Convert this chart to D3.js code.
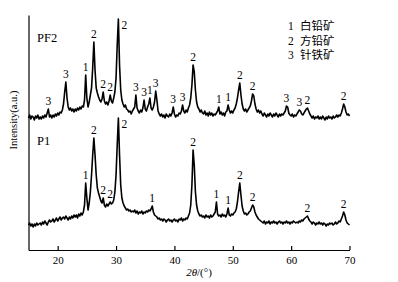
<!DOCTYPE html>
<html>
<head>
<meta charset="utf-8">
<script src="https://cdn.jsdelivr.net/npm/d3@7/dist/d3.min.js"></script>
<style>
html,body{margin:0;padding:0;background:#fff;}
svg{display:block;}
</style>
</head>
<body>
<svg id="chart" width="398" height="282"></svg>
<script>
// 2θ scan angles (°)
const scanAngles = [
15,15.2,15.4,15.6,15.8,16,16.2,16.4,16.6,16.8,
17,17.2,17.4,17.6,17.8,18,18.2,18.4,18.6,18.8,
19,19.2,19.4,19.6,19.8,20,20.2,20.4,20.6,20.8,
21,21.2,21.4,21.6,21.8,22,22.2,22.4,22.6,22.8,
23,23.2,23.4,23.6,23.8,24,24.2,24.4,24.6,24.8,
25,25.2,25.4,25.6,25.8,26,26.2,26.4,26.6,26.8,
27,27.2,27.4,27.6,27.8,28,28.2,28.4,28.6,28.8,
29,29.2,29.4,29.6,29.8,30,30.2,30.4,30.6,30.8,
31,31.2,31.4,31.6,31.8,32,32.2,32.4,32.6,32.8,
33,33.2,33.4,33.6,33.8,34,34.2,34.4,34.6,34.8,
35,35.2,35.4,35.6,35.8,36,36.2,36.4,36.6,36.8,
37,37.2,37.4,37.6,37.8,38,38.2,38.4,38.6,38.8,
39,39.2,39.4,39.6,39.8,40,40.2,40.4,40.6,40.8,
41,41.2,41.4,41.6,41.8,42,42.2,42.4,42.6,42.8,
43,43.2,43.4,43.6,43.8,44,44.2,44.4,44.6,44.8,
45,45.2,45.4,45.6,45.8,46,46.2,46.4,46.6,46.8,
47,47.2,47.4,47.6,47.8,48,48.2,48.4,48.6,48.8,
49,49.2,49.4,49.6,49.8,50,50.2,50.4,50.6,50.8,
51,51.2,51.4,51.6,51.8,52,52.2,52.4,52.6,52.8,
53,53.2,53.4,53.6,53.8,54,54.2,54.4,54.6,54.8,
55,55.2,55.4,55.6,55.8,56,56.2,56.4,56.6,56.8,
57,57.2,57.4,57.6,57.8,58,58.2,58.4,58.6,58.8,
59,59.2,59.4,59.6,59.8,60,60.2,60.4,60.6,60.8,
61,61.2,61.4,61.6,61.8,62,62.2,62.4,62.6,62.8,
63,63.2,63.4,63.6,63.8,64,64.2,64.4,64.6,64.8,
65,65.2,65.4,65.6,65.8,66,66.2,66.4,66.6,66.8,
67,67.2,67.4,67.6,67.8,68,68.2,68.4,68.6,68.8,
69,69.2,69.4,69.6,69.8,70
];

// Sample PF2 intensity (a.u., stacked offset included)
const pf2Intensity = [
132,135,131,134,133,130,134,132,135,131,
133,131,134,132,135,133,137,141,133,135,
132,135,133,136,134,137,135,138,137,140,
146,158,168,152,143,140,142,139,141,138,
141,139,142,140,143,141,144,143,150,175,
152,143,148,155,162,182,208,180,162,157,
153,150,148,151,158,149,146,148,145,149,
155,149,147,152,158,172,205,231,185,160,
150,146,143,145,141,140,138,139,136,139,
141,143,155,142,139,137,140,138,142,150,
141,139,143,146,152,142,140,143,148,159,
150,139,136,134,136,133,135,132,136,134,
133,136,134,137,143,136,133,135,134,137,
136,139,145,139,137,140,138,142,145,152,
165,185,178,160,148,143,141,138,140,137,
136,139,135,137,134,138,135,137,134,136,
135,137,139,143,136,138,135,137,134,138,
139,145,140,137,139,137,140,142,146,152,
160,167,155,146,141,139,141,138,140,142,
144,149,156,154,146,141,138,140,137,139,
136,134,137,135,133,136,134,137,135,133,
136,134,137,135,133,136,134,136,135,137,
139,144,143,137,135,134,136,133,135,134,
136,138,140,139,136,135,137,139,141,142,
139,136,134,132,134,131,133,132,134,131,
133,131,134,132,130,133,131,134,132,133,
131,134,132,133,135,133,135,134,137,141,
146,143,138,135,136,134
];

// Sample P1 intensity (a.u.)
const p1Intensity = [
25,27,24,26,23,26,24,27,25,26,
27,25,28,26,29,27,25,28,30,28,
29,31,28,30,32,29,31,33,30,32,
33,31,34,32,30,33,31,34,32,35,
33,35,32,36,34,37,35,38,45,67,
52,40,47,58,75,95,112,95,75,62,
57,53,49,47,52,45,43,46,44,46,
48,46,47,50,58,75,105,132,95,65,
52,47,44,42,40,41,39,40,38,39,
38,40,37,39,36,38,37,39,36,38,
37,39,38,40,39,41,44,38,35,34,
33,31,32,30,31,29,31,30,28,30,
31,29,30,28,30,31,29,30,28,31,
30,32,29,31,30,32,31,34,37,45,
65,100,85,58,45,39,36,34,35,33,
34,32,35,33,34,32,35,33,34,36,
38,48,36,34,35,33,36,34,35,33,
36,42,35,34,36,35,37,38,41,48,
58,67,55,44,39,36,37,35,36,38,
39,42,45,43,38,35,33,31,30,29,
28,27,29,26,28,27,29,26,28,27,
29,27,28,26,28,29,27,28,26,28,
27,29,27,28,26,28,27,29,28,27,
28,27,29,28,30,29,31,32,33,34,
31,29,28,26,28,27,25,27,26,28,
26,27,25,27,26,24,26,25,27,26,
27,25,26,28,26,27,29,28,31,34,
38,35,30,27,26,25
];

const sampleNames = ["PF2", "P1"];

// Phase annotations (peak 2θ and phase number)
const pf2PeakAngles = [18.4,21.4,24.8,26.2,27.8,29.0,30.4,33.4,34.8,35.8,36.8,39.8,41.4,43.2,47.6,49.2,51.2,53.4,59.2,61.4,62.8,69.0];
const pf2PeakPhases = ["3","3","1","2","2","2","2","3","3","1","3","3","3","2","1","1","2","2","3","3","2","2"];
const p1PeakAngles = [24.8,26.2,27.8,29.0,30.4,36.2,43.2,47.2,49.2,51.2,53.4,62.8,69.0];
const p1PeakPhases = ["1","2","2","2","2","1","2","1","1","2","2","2","2"];

// Legend
const phaseNumbers = ["1","2","3"];
const phaseNames = ["白铅矿","方铅矿","针铁矿"];

// Axis ticks
const xTicks = [20,30,40,50,60,70];
const xTitleMain = "2θ";
const xTitleUnit = "/(°)";
const yTitle = "Intensity(a.u.)";

const svg = d3.select("#chart");
const serif = "'Liberation Serif','Times New Roman',serif";
const serifCjk = "'Liberation Serif','Noto Sans CJK SC','Noto Sans CJK JP',serif";

const x = d3.scaleLinear().domain([15, 70]).range([28.5, 349.5]);
const y = d3.scaleLinear().domain([0, 235]).range([250, 15]);

// Curves
const line = d3.line().x(d => x(d[0])).y(d => y(d[1]));
const series = [pf2Intensity, p1Intensity];
series.forEach(vals => {
  svg.append("path")
    .datum(scanAngles.map((a, i) => [a, vals[i]]))
    .attr("d", line)
    .attr("fill", "none")
    .attr("stroke", "#000")
    .attr("stroke-width", 1.6)
    .attr("stroke-linejoin", "round");
});

// Axes
const xAxis = d3.axisBottom(x).tickValues(xTicks).tickSizeInner(-4).tickSizeOuter(0).tickPadding(6);
const gx = svg.append("g").attr("transform", "translate(0,250)").call(xAxis);
gx.select(".domain").attr("stroke", "#000").attr("stroke-width", 1.2);
gx.selectAll(".tick line").attr("stroke", "#000").attr("stroke-width", 1.2);
gx.selectAll(".tick text").attr("font-family", serif).attr("font-size", 11).attr("fill", "#000");

const yAxis = d3.axisLeft(y).tickValues([]).tickSizeOuter(0);
const gy = svg.append("g").attr("transform", "translate(28.5,0)").call(yAxis);
gy.select(".domain").attr("stroke", "#000").attr("stroke-width", 1.2);

// Axis titles
const xt = svg.append("text").attr("x", 199).attr("y", 276).attr("text-anchor", "middle")
  .attr("font-family", serif).attr("font-size", 11).attr("fill", "#000");
xt.append("tspan").attr("font-style", "italic").text(xTitleMain);
xt.append("tspan").text(xTitleUnit);

svg.append("text").attr("transform", "translate(17,120) rotate(-90)").attr("text-anchor", "middle")
  .attr("font-family", serif).attr("font-size", 10.5).attr("fill", "#000").text(yTitle);

// Sample names
svg.append("text").attr("x", 37).attr("y", 42).attr("font-family", serif).attr("font-size", 12.5).attr("fill", "#000").text(sampleNames[0]);
svg.append("text").attr("x", 37).attr("y", 145).attr("font-family", serif).attr("font-size", 12.5).attr("fill", "#000").text(sampleNames[1]);

// Peak labels
function peakLabels(angles, phases, vals) {
  const tallest = d3.max(vals);
  angles.forEach((a, k) => {
    const near = scanAngles.map((s, i) => [s, vals[i]]).filter(d => Math.abs(d[0] - a) <= 0.25);
    const top = d3.max(near, d => d[1]);
    const isTallest = top === tallest;
    svg.append("text")
      .attr("x", isTallest ? x(a) + 3 : x(a))
      .attr("y", isTallest ? y(top) + 10 : y(top) - 4)
      .attr("text-anchor", isTallest ? "start" : "middle")
      .attr("font-family", serif).attr("font-size", 11.5).attr("fill", "#000")
      .text(phases[k]);
  });
}
peakLabels(pf2PeakAngles, pf2PeakPhases, pf2Intensity);
peakLabels(p1PeakAngles, p1PeakPhases, p1Intensity);

// Legend: one text per row, serif primary font with CJK fallback
phaseNumbers.forEach((n, i) => {
  const t = svg.append("text").attr("y", 30.3 + i * 14.2)
    .attr("font-family", serifCjk).attr("font-size", 11.5).attr("fill", "#000");
  t.append("tspan").attr("x", 288).text(n);
  t.append("tspan").attr("x", 300).text(phaseNames[i]);
});
</script>
</body>
</html>
